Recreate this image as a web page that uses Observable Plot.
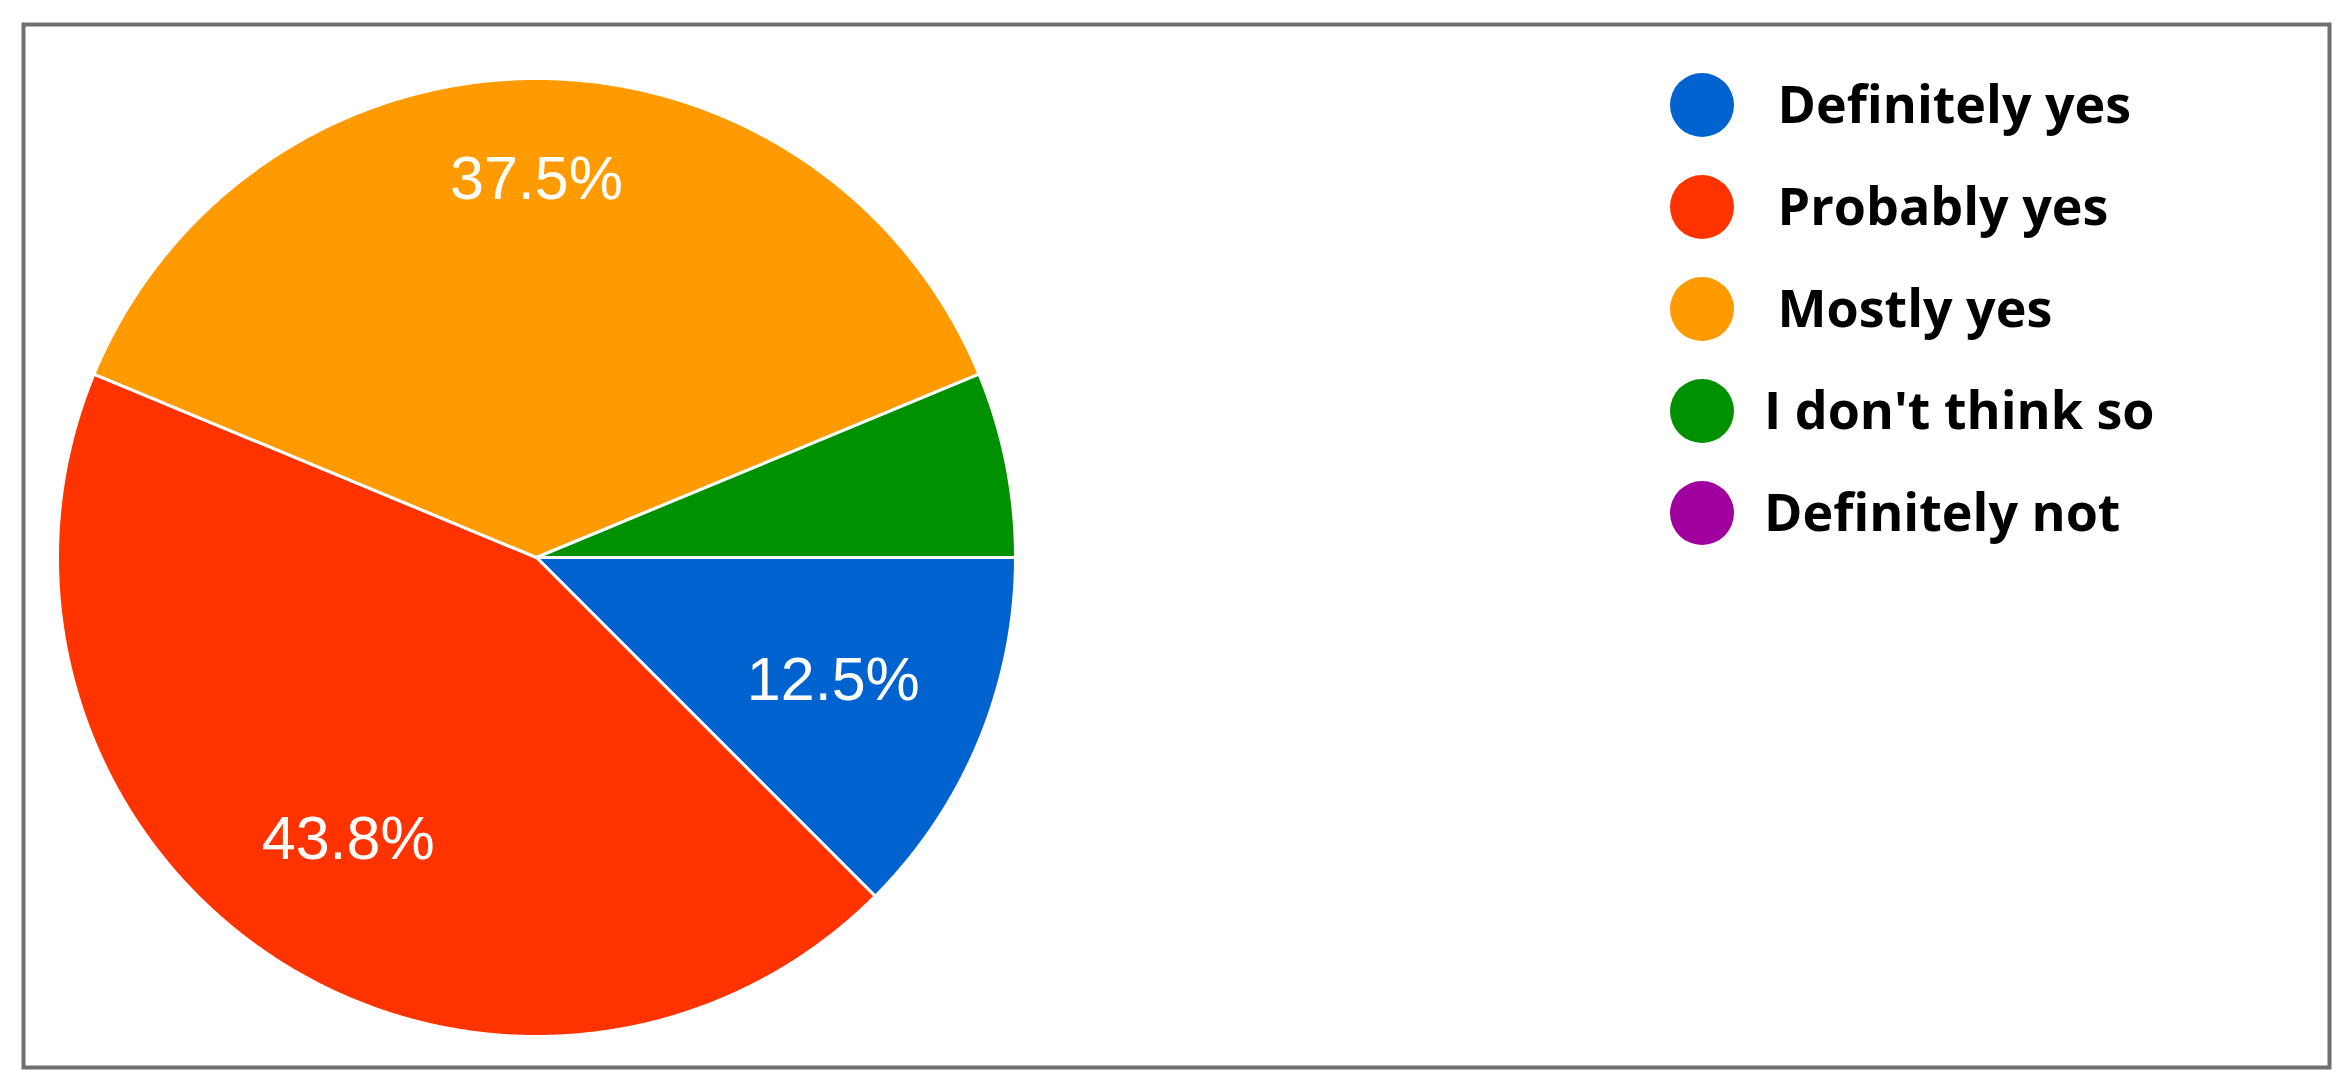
<!DOCTYPE html>
<html>
<head>
<meta charset="utf-8">
<script src="https://cdn.jsdelivr.net/npm/d3@7"></script>
<script src="https://cdn.jsdelivr.net/npm/@observablehq/plot@0.6"></script>
<style>
  html, body { margin: 0; padding: 0; background: #fff; }
  #wrap { position: relative; width: 2347px; height: 1088px; overflow: hidden; background: #fff; }
  #legend { position: absolute; left: 1670px; top: 54px; font-family: "Open Sans", sans-serif; font-weight: 700; font-size: 52px; color: #000; }
  .row { height: 102px; display: flex; align-items: center; white-space: pre; }
  .sw { width: 64px; height: 64px; border-radius: 50%; margin-right: 30px; flex: none; }
  .row span { position: relative; top: -3px; }
</style>
</head>
<body>
<div id="wrap"><div id="legend"></div></div>
<script>
// ---- data ----
const categories = [" Definitely yes", " Probably yes", " Mostly yes", "I don't think so", "Definitely not"];
const counts = [2, 7, 6, 1, 0];
const colors = ["#0063cf", "#ff3300", "#ff9a00", "#009100", "#a0009e"];

// ---- layout ----
const W = 2347, H = 1088;
const cx = 536, cy = 557, R = 479;
const labelFont = 61;
const minLabelShare = 0.1; // small slices carry no percentage label

const total = d3.sum(counts);
const rows = categories.map((c, i) => ({category: c, value: counts[i], color: colors[i]}));
const arcs = d3.pie().sort(null).value(d => d.value)
  .startAngle(Math.PI / 2).endAngle(Math.PI / 2 + 2 * Math.PI)(rows)
  .filter(a => a.data.value > 0);

// polygon outlines of the slices, in unit coordinates (x right, y up)
const slicePts = [];
for (const a of arcs) {
  slicePts.push({category: a.data.category, x: 0, y: 0});
  const n = Math.max(2, Math.ceil((a.endAngle - a.startAngle) / (Math.PI / 720)));
  for (let k = 0; k <= n; k++) {
    const t = a.startAngle + (a.endAngle - a.startAngle) * k / n;
    slicePts.push({category: a.data.category, x: Math.sin(t), y: Math.cos(t)});
  }
}

// percentage labels: centred along mid-angle, furthest box corner at 0.856 R
const ctx = document.createElement("canvas").getContext("2d");
ctx.font = `${labelFont}px "Liberation Sans", Arial, sans-serif`;
const labels = arcs.filter(a => a.data.value / total >= minLabelShare).map(a => {
  const text = (a.data.value / total * 100).toFixed(1) + "%";
  const mid = (a.startAngle + a.endAngle) / 2;
  const ux = Math.sin(mid), uy = -Math.cos(mid); // screen direction
  const w = ctx.measureText(text).width / 2, h = labelFont * 0.37;
  const c = [Math.sign(ux) * w, Math.sign(uy) * h];
  const uc = ux * c[0] + uy * c[1];
  const r = 0.856 * R;
  const d = -uc + Math.sqrt(uc * uc - (c[0] * c[0] + c[1] * c[1]) + r * r);
  return {text, x: ux * d / R, y: -uy * d / R};
});

const chart = Plot.plot({
  width: W, height: H,
  marginTop: 24, marginLeft: 23, marginRight: 18, marginBottom: 21,
  x: {domain: [-1, 1], range: [cx - R, cx + R], axis: null},
  y: {domain: [-1, 1], range: [cy + R, cy - R], axis: null},
  color: {domain: categories, range: colors},
  style: {background: "transparent"},
  marks: [
    Plot.line(slicePts, {x: "x", y: "y", z: "category", fill: "category", stroke: "#fff", strokeWidth: 3, curve: "linear-closed", strokeLinejoin: "round"}),
    Plot.text(labels, {x: "x", y: "y", text: "text", fill: "#fff", fontSize: labelFont, fontFamily: "'Liberation Sans', Arial, sans-serif", textAnchor: "middle", lineAnchor: "middle"}),
    Plot.frame({stroke: "#707070", strokeWidth: 4})
  ]
});
const wrap = document.getElementById("wrap");
chart.style.position = "absolute";
chart.style.left = "0px";
chart.style.top = "0px";
wrap.insertBefore(chart, wrap.firstChild);

// legend
const color = chart.scale("color");
const legend = document.getElementById("legend");
categories.forEach((c, i) => {
  const row = document.createElement("div");
  row.className = "row";
  const sw = document.createElement("div");
  sw.className = "sw";
  sw.style.background = color.range[i];
  const tx = document.createElement("span");
  tx.textContent = c;
  row.appendChild(sw);
  row.appendChild(tx);
  legend.appendChild(row);
});
</script>
</body>
</html>
